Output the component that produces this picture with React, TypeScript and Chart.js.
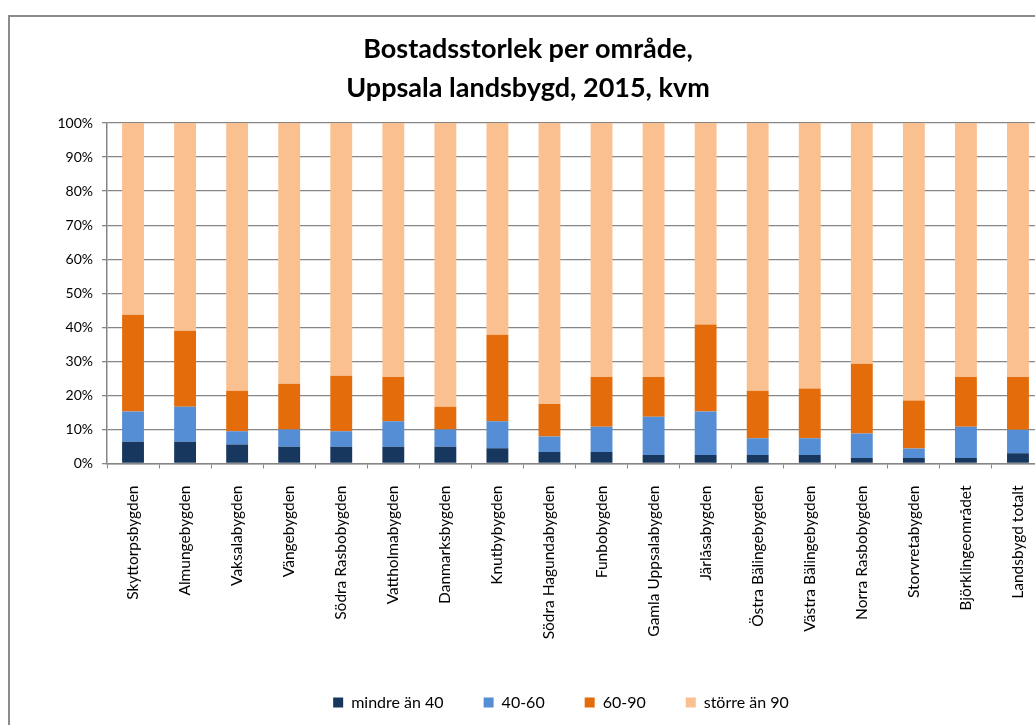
import React, { useEffect, useRef } from "react";
import { Chart, registerables } from "chart.js";

Chart.register(...registerables);

const categories = [
  "Skyttorpsbygden",
  "Almungebygden",
  "Vaksalabygden",
  "Vängebygden",
  "Södra Rasbobygden",
  "Vattholmabygden",
  "Danmarksbygden",
  "Knutbybygden",
  "Södra Hagundabygden",
  "Funbobygden",
  "Gamla Uppsalabygden",
  "Järlåsabygden",
  "Östra Bälingebygden",
  "Västra Bälingebygden",
  "Norra Rasbobygden",
  "Storvretabygden",
  "Björklingeområdet",
  "Landsbygd totalt",
];

const seriesNames = ["mindre än 40", "40-60", "60-90", "större än 90"];

const under40 = [6.4, 6.4, 5.6, 4.9, 4.9, 4.9, 4.9, 4.5, 3.4, 3.4, 2.5, 2.5, 2.5, 2.5, 1.6, 1.6, 1.6, 3.0];
const from40to60 = [8.9, 10.3, 3.9, 5.1, 4.6, 7.5, 5.1, 7.9, 4.5, 7.4, 11.2, 12.8, 4.9, 4.9, 7.2, 2.8, 9.2, 6.9];
const from60to90 = [28.4, 22.3, 11.9, 13.4, 16.3, 13.0, 6.7, 25.4, 9.6, 14.6, 11.7, 25.5, 14.0, 14.6, 20.5, 14.1, 14.6, 15.5];
const over90 = [56.3, 61.0, 78.6, 76.6, 74.2, 74.6, 83.3, 62.2, 82.5, 74.6, 74.6, 59.2, 78.6, 78.0, 70.7, 81.5, 74.6, 74.6];

const yTicks = [0, 10, 20, 30, 40, 50, 60, 70, 80, 90, 100];

const titleLines = ["Bostadsstorlek per område,", "Uppsala landsbygd, 2015, kvm"];

const colors = ["#17375E", "#558ED5", "#E46C0A", "#FAC090"];

const FONT = "Lato";

const titlePlugin = {
  id: "twoLineTitle",
  afterDraw(chart: any) {
    const ctx = chart.ctx;
    ctx.save();
    ctx.font = `bold 27px ${FONT}`;
    ctx.fillStyle = "#000";
    ctx.textAlign = "center";
    ctx.textBaseline = "middle";
    ctx.fillText(titleLines[0], 518, 32);
    ctx.fillText(titleLines[1], 518, 71);
    ctx.restore();
  },
};

const legendShiftPlugin = {
  id: "legendShift",
  afterLayout(chart: any) {
    const l = chart.legend;
    if (l) {
      l.left += 34;
      l.right += 34;
    }
  },
};

export default function App() {
  const ref = useRef<HTMLCanvasElement | null>(null);

  useEffect(() => {
    if (!ref.current) return;
    const values = [under40, from40to60, from60to90, over90];
    const chart = new Chart(ref.current, {
      type: "bar",
      data: {
        labels: categories,
        datasets: seriesNames.map((name, i) => ({
          label: name,
          data: values[i],
          backgroundColor: colors[i],
          borderWidth: 0,
          categoryPercentage: 1,
          barPercentage: 0.42,
        })),
      },
      options: {
        responsive: false,
        animation: false,
        devicePixelRatio: 1,
        layout: { padding: { left: 0, right: 56, top: 106, bottom: 36.5 } },
        plugins: {
          title: { display: false },
          tooltip: { enabled: false },
          legend: {
            position: "bottom",
            labels: {
              boxWidth: 10,
              boxHeight: 10,
              padding: 40,
              color: "#000",
              font: { family: FONT, size: 16 },
            },
          },
        },
        scales: {
          x: {
            stacked: true,
            grid: {
              display: true,
              drawOnChartArea: false,
              drawTicks: true,
              tickLength: 5,
              color: "#868686",
              lineWidth: 1,
            },
            border: { display: true, color: "#868686", width: 1.5 },
            ticks: {
              autoSkip: false,
              maxRotation: 90,
              minRotation: 90,
              padding: 17,
              color: "#000",
              font: { family: FONT, size: 15.5 },
            },
            afterFit: (s: any) => {
              s.height = 191;
            },
          },
          y: {
            stacked: true,
            min: 0,
            max: 100,
            afterBuildTicks: (s: any) => {
              s.ticks = yTicks.map((v) => ({ value: v }));
            },
            grid: {
              color: "#868686",
              lineWidth: 1.3,
              tickLength: 5,
            },
            border: { display: true, color: "#868686", width: 1.5 },
            ticks: {
              padding: 9,
              color: "#000",
              font: { family: FONT, size: 14 },
              callback: (v: any) => `${v}%`,
            },
            afterFit: (s: any) => {
              s.width = 97;
            },
          },
        },
      },
      plugins: [titlePlugin, legendShiftPlugin],
    });
    return () => chart.destroy();
  }, []);

  return (
    <div
      style={{
        position: "fixed",
        left: 0,
        top: 0,
        width: 1035,
        height: 725,
        overflow: "hidden",
        background: "#fff",
      }}
    >
      <div
        style={{
          position: "absolute",
          left: 8,
          top: 15,
          width: 1090,
          height: 740,
          border: "2px solid #8c8c8c",
        }}
      >
        <canvas
          ref={ref}
          width={1090}
          height={740}
          style={{ display: "block", width: 1090, height: 740 }}
        />
      </div>
    </div>
  );
}
